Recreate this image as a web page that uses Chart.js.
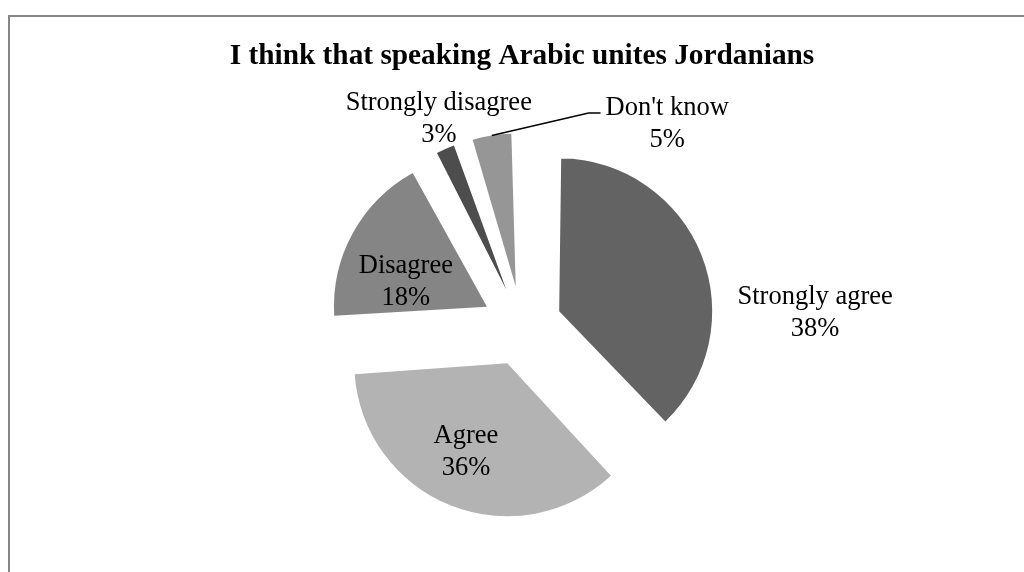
<!DOCTYPE html>
<html>
<head>
<meta charset="utf-8">
<script src="https://cdn.jsdelivr.net/npm/chart.js@4"></script>
<style>
    html, body { margin: 0; padding: 0; background: #fff; overflow: hidden; }
    #wrap { position: relative; width: 1024px; height: 572px; }
    #frame {
        position: absolute; left: 8px; top: 15px; width: 1100px; height: 700px;
        border-left: 2px solid #868686; border-top: 2px solid #868686;
        pointer-events: none;
    }
</style>
</head>
<body>
<div id="wrap">
    <canvas id="pie_chart" width="1024" height="572"></canvas>
    <div id="frame"></div>
</div>
<script>
const labels = ['Strongly agree', 'Agree', 'Disagree', 'Strongly disagree', "Don't know"];
const values = [38, 36, 18, 3, 5];
const colors = ['#636363', '#b3b3b3', '#858585', '#4d4d4d', '#969696'];

// where each label sits, relative to its own slice centre, in radii
const labelPos = [[1.673, 0], [-0.27, 0.57], [-0.53, -0.176], [-0.44, -1.125], [0.99, -1.075]];
const labelFont = '26.5px "Liberation Serif", "Times New Roman", serif';

// Chart.js v4 shifts an arc by offset / 4 and also grows its radius by
// (offset / 4) * (1 - sin(circumference)); undo the growth so every
// slice keeps the same radius
const evenRadius = {
    id: 'evenRadius',
    afterDatasetUpdate(chart, args) {
        args.meta.data.forEach(arc => {
            const circ = arc.endAngle - arc.startAngle;
            const fix = 1 - Math.sin(Math.min(Math.PI, circ));
            arc.outerRadius -= (arc.options.offset / 4) * fix;
        });
    }
};

const sliceLabels = {
    id: 'sliceLabels',
    afterDatasetsDraw(chart) {
        const ctx = chart.ctx;
        const meta = chart.getDatasetMeta(0);
        ctx.save();
        ctx.font = labelFont;
        ctx.fillStyle = '#000';
        ctx.textAlign = 'center';
        ctx.textBaseline = 'alphabetic';
        meta.data.forEach((arc, i) => {
            const mid = (arc.startAngle + arc.endAngle) / 2;
            const off = arc.options.offset / 4;
            const cx = arc.x + Math.cos(mid) * off;
            const cy = arc.y + Math.sin(mid) * off;
            const r = chart.options.radius;
            const lx = cx + labelPos[i][0] * r;
            const ly = cy + labelPos[i][1] * r;
            const line1 = labels[i];
            const line2 = values[i] + '%';
            ctx.fillText(line1, lx, ly - 7);
            ctx.fillText(line2, lx, ly + 25);

            // leader line for the small slice on the right
            if (i === 4) {
                const w = ctx.measureText(line1).width;
                const ex = lx - w / 2 - 5;
                const ey = ly - 9;
                ctx.beginPath();
                ctx.moveTo(cx + Math.cos(mid) * r, cy + Math.sin(mid) * r);
                ctx.lineTo(ex - 12, ey);
                ctx.lineTo(ex, ey);
                ctx.lineWidth = 1.5;
                ctx.strokeStyle = '#000';
                ctx.stroke();
            }
        });
        ctx.restore();
    }
};

const ctx = document.getElementById('pie_chart').getContext('2d');
const myChart = new Chart(ctx, {
    type: 'pie',
    data: {
        labels: labels,
        datasets: [{
            data: values,
            backgroundColor: colors,
            borderWidth: 0,
            offset: 160 // drawn as a 40px shift
        }]
    },
    options: {
        responsive: false,
        animation: false,
        radius: 153,
        layout: {
            padding: { left: 20, right: 0, top: 0, bottom: 0 }
        },
        plugins: {
            legend: { display: false },
            tooltip: { enabled: false },
            title: {
                display: true,
                text: 'I think that speaking Arabic unites Jordanians',
                color: '#000',
                font: { family: '"Liberation Serif", "Times New Roman", serif', size: 29.3, weight: 'bold', lineHeight: 1.2 },
                padding: { top: 38.4, bottom: 6.6 }
            }
        }
    },
    plugins: [evenRadius, sliceLabels]
});
</script>
</body>
</html>
